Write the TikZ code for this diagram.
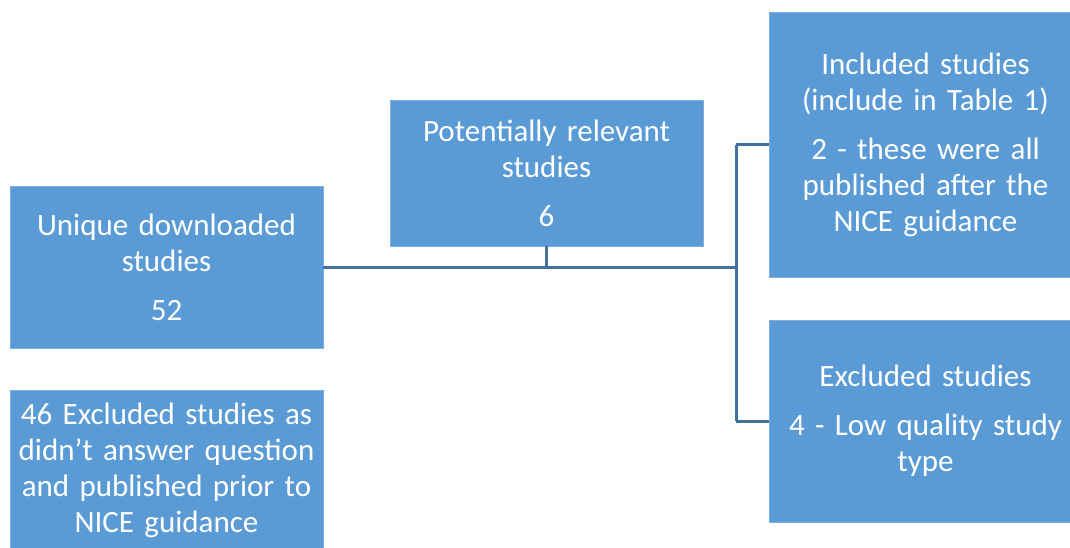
\documentclass[tikz,border=0pt]{standalone}
\usepackage{fontspec}
\setmainfont{Carlito}
\usetikzlibrary{positioning}

\definecolor{boxblue}{HTML}{5B9BD5}
\definecolor{lineblue}{HTML}{41719C}

\begin{document}
\begin{tikzpicture}[x=1pt, y=-1pt,
  studybox/.style={fill=boxblue, draw=boxblue!80!white, line width=0.8pt, text=white, inner sep=0pt,
    minimum width=313pt, text width=311pt, align=center,
    font=\fontsize{31}{36}\selectfont},
  link/.style={draw=lineblue, line width=3pt}]
\useasboundingbox (0,0) rectangle (1070,547);

\node[studybox, minimum height=162pt] (unique) at (166.5, 267) {Unique downloaded\\studies\\[13pt]52};
\node[studybox, minimum height=160pt] (excl46) at (166.5, 470) {46 Excluded studies as\\didn’t answer question\\and published prior to\\NICE guidance};
\node[studybox, minimum height=146pt] (relevant) at (546.5, 173) {Potentially relevant\\studies\\[13pt]6};
\node[studybox, minimum height=265pt] (included) at (925.5, 144.5) {Included studies\\(include in Table 1)\\[13pt]2 - these were all\\published after the\\NICE guidance};
\node[studybox, minimum height=202pt] (excluded) at (925.5, 421) {Excluded studies\\[13pt]4 - Low quality study\\type};

\coordinate (split) at (736, 267);

\draw[link] (unique.east) -- (split);
\draw[link] (relevant.south) -- (relevant.south |- split);
\draw[link] (split |- included.west) -- (split |- excluded.west);
\draw[link] (split |- included.west) -- (included.west);
\draw[link] (split |- excluded.west) -- (excluded.west);

\end{tikzpicture}
\end{document}
